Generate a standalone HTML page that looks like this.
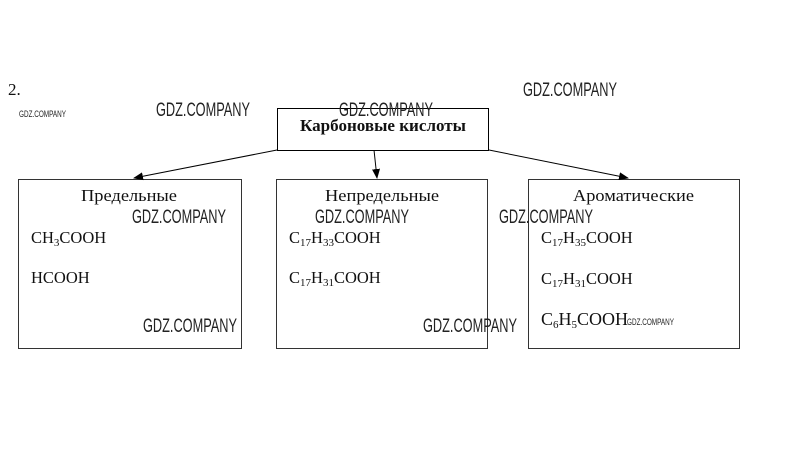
<!DOCTYPE html>
<html><head><meta charset="utf-8"><style>
html,body{margin:0;padding:0;background:#fff;width:808px;height:450px;overflow:hidden}
svg{display:block}
.t{font-family:"Liberation Serif",serif;fill:#111}
.w{font-family:"Liberation Sans Narrow","Liberation Sans",sans-serif;fill:#222}
</style></head><body>
<svg width="808" height="450" viewBox="0 0 808 450">
<defs><marker id="a" markerWidth="10" markerHeight="8" refX="9" refY="4" orient="auto" markerUnits="userSpaceOnUse"><path d="M0,0 L10,4 L0,8 Z" fill="#000"/></marker></defs>
<text class="t" x="8" y="95" font-size="17">2.</text>
<rect x="277.5" y="108.5" width="211" height="42" fill="none" stroke="#000"/>
<rect x="18.5" y="179.5" width="223" height="169" fill="none" stroke="#333"/>
<rect x="276.5" y="179.5" width="211" height="169" fill="none" stroke="#333"/>
<rect x="528.5" y="179.5" width="211" height="169" fill="none" stroke="#333"/>
<line x1="277" y1="150" x2="134" y2="178" stroke="#000" marker-end="url(#a)"/>
<line x1="374" y1="150" x2="377" y2="178" stroke="#000" marker-end="url(#a)"/>
<line x1="489" y1="150" x2="628" y2="178" stroke="#000" marker-end="url(#a)"/>
<text class="t" x="300" y="131" font-size="17" font-weight="bold" textLength="166" lengthAdjust="spacingAndGlyphs">Карбоновые кислоты</text>
<text class="t" x="81" y="201" font-size="17" textLength="96" lengthAdjust="spacingAndGlyphs">Предельные</text>
<text class="t" x="325" y="201" font-size="17" textLength="114" lengthAdjust="spacingAndGlyphs">Непредельные</text>
<text class="t" x="573" y="201" font-size="17" textLength="121" lengthAdjust="spacingAndGlyphs">Ароматические</text>
<text class="t" x="31" y="243" font-size="16.5">CH<tspan font-size="11" dy="3">3</tspan><tspan dy="-3">COOH</tspan></text>
<text class="t" x="31" y="283" font-size="16.5">HCOOH</text>
<text class="t" x="289" y="243" font-size="16.5">C<tspan font-size="11" dy="3">17</tspan><tspan dy="-3">H</tspan><tspan font-size="11" dy="3">33</tspan><tspan dy="-3">COOH</tspan></text>
<text class="t" x="289" y="283" font-size="16.5">C<tspan font-size="11" dy="3">17</tspan><tspan dy="-3">H</tspan><tspan font-size="11" dy="3">31</tspan><tspan dy="-3">COOH</tspan></text>
<text class="t" x="541" y="243" font-size="16.5">C<tspan font-size="11" dy="3">17</tspan><tspan dy="-3">H</tspan><tspan font-size="11" dy="3">35</tspan><tspan dy="-3">COOH</tspan></text>
<text class="t" x="541" y="284" font-size="16.5">C<tspan font-size="11" dy="3">17</tspan><tspan dy="-3">H</tspan><tspan font-size="11" dy="3">31</tspan><tspan dy="-3">COOH</tspan></text>
<text class="t" x="541" y="325" font-size="18">C<tspan font-size="11" dy="3">6</tspan><tspan dy="-3">H</tspan><tspan font-size="11" dy="3">5</tspan><tspan dy="-3">COOH</tspan></text>
<text class="w" x="19" y="117" font-size="9" textLength="47" lengthAdjust="spacingAndGlyphs">GDZ.COMPANY</text>
<text class="w" x="156" y="116" font-size="19" textLength="94" lengthAdjust="spacingAndGlyphs">GDZ.COMPANY</text>
<text class="w" x="339" y="116" font-size="19" textLength="94" lengthAdjust="spacingAndGlyphs">GDZ.COMPANY</text>
<text class="w" x="523" y="96" font-size="19" textLength="94" lengthAdjust="spacingAndGlyphs">GDZ.COMPANY</text>
<text class="w" x="132" y="223" font-size="19" textLength="94" lengthAdjust="spacingAndGlyphs">GDZ.COMPANY</text>
<text class="w" x="315" y="223" font-size="19" textLength="94" lengthAdjust="spacingAndGlyphs">GDZ.COMPANY</text>
<text class="w" x="499" y="223" font-size="19" textLength="94" lengthAdjust="spacingAndGlyphs">GDZ.COMPANY</text>
<text class="w" x="143" y="332" font-size="19" textLength="94" lengthAdjust="spacingAndGlyphs">GDZ.COMPANY</text>
<text class="w" x="423" y="332" font-size="19" textLength="94" lengthAdjust="spacingAndGlyphs">GDZ.COMPANY</text>
<text class="w" x="627" y="325" font-size="9" textLength="47" lengthAdjust="spacingAndGlyphs">GDZ.COMPANY</text>
</svg>
</body></html>
